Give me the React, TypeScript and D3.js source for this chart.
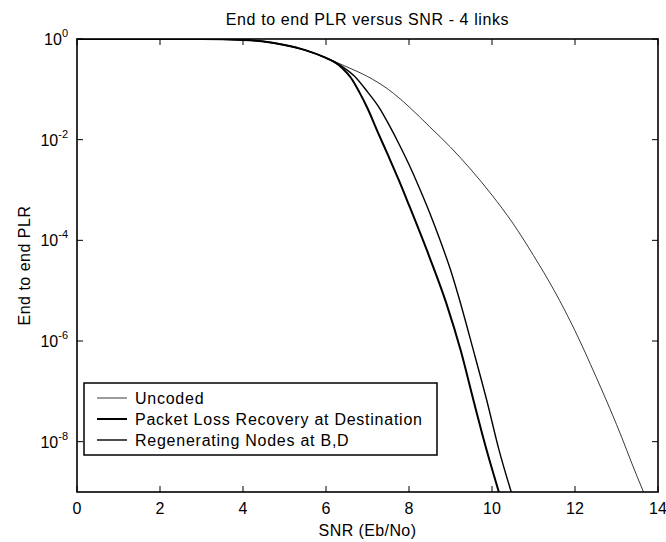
import { useRef, useEffect } from 'react';
import * as d3 from 'd3';

// SNR (Eb/No) sample points and end-to-end PLR
const snrUncoded = [0, 1, 2, 3, 4, 4.5, 5, 5.5, 6, 6.5, 7, 7.5, 8, 8.5, 9, 9.5, 10, 10.5, 11, 11.5, 12, 12.5, 13, 13.5, 13.7];
const plrUncoded = [1, 1, 1, 0.998, 0.96, 0.89, 0.76, 0.6, 0.42, 0.28, 0.18, 0.1, 0.045, 0.018, 7.1e-3, 2.5e-3, 7.9e-4, 2.2e-4, 5.0e-5, 1.0e-5, 1.6e-6, 2.0e-7, 2.2e-8, 2.0e-9, 8e-10];

const snrRecovery = [0, 1, 2, 3, 4, 4.5, 5, 5.5, 6, 6.2, 6.4, 6.6, 6.8, 7, 7.25, 7.5, 7.75, 8, 8.5, 8.9, 9.25, 9.55, 9.87, 10.2];
const plrRecovery = [1, 1, 1, 0.998, 0.96, 0.89, 0.76, 0.6, 0.42, 0.35, 0.26, 0.17, 0.089, 0.042, 0.014, 4.8e-3, 1.6e-3, 5.0e-4, 4.5e-5, 5.6e-6, 6.3e-7, 6.8e-8, 6.8e-9, 8e-10];

const snrRegen = [0, 1, 2, 3, 4, 4.5, 5, 5.5, 6, 6.4, 6.7, 7, 7.3, 7.5, 7.75, 8, 8.25, 8.5, 8.75, 9, 9.2, 9.55, 9.87, 10.17, 10.5];
const plrRegen = [1, 1, 1, 0.998, 0.96, 0.89, 0.76, 0.6, 0.42, 0.28, 0.178, 0.089, 0.041, 0.021, 8.5e-3, 3.2e-3, 1.1e-3, 3.5e-4, 1.0e-4, 2.6e-5, 7.4e-6, 6.6e-7, 6.8e-8, 6.8e-9, 8e-10];

const xTicks = [0, 2, 4, 6, 8, 10, 12, 14];
const yTickExps = [0, -2, -4, -6, -8];
const legendLabels = ['Uncoded', 'Packet Loss Recovery at Destination', 'Regenerating Nodes at B,D'];

export default function App() {
  const ref = useRef<SVGSVGElement>(null);

  useEffect(() => {
    if (!ref.current) return;
    const svg = d3.select(ref.current);
    svg.selectAll('*').remove();

    const width = 666;
    const height = 542;
    const margin = { top: 39, right: 8, bottom: 50, left: 77 };
    const x0 = margin.left;
    const x1 = width - margin.right;
    const y0 = margin.top;
    const y1 = height - margin.bottom;
    const font = 'Liberation Sans, Arial, sans-serif';

    const x = d3.scaleLinear().domain([0, 14]).range([x0, x1]);
    const y = d3.scaleLog().domain([1e-9, 1]).range([y1, y0]);

    svg.append('rect').attr('width', width).attr('height', height).attr('fill', '#fff');

    svg.append('defs').append('clipPath').attr('id', 'plot-clip')
      .append('rect').attr('x', x0).attr('y', y0).attr('width', x1 - x0).attr('height', y1 - y0);

    // ticks (inward, on all four sides)
    const tickLen = 6;
    const ticks = svg.append('g').attr('stroke', '#000').attr('stroke-width', 1);
    xTicks.forEach(t => {
      ticks.append('line').attr('x1', x(t)).attr('x2', x(t)).attr('y1', y1).attr('y2', y1 - tickLen);
      ticks.append('line').attr('x1', x(t)).attr('x2', x(t)).attr('y1', y0).attr('y2', y0 + tickLen);
    });
    yTickExps.forEach(e => {
      const v = Math.pow(10, e);
      ticks.append('line').attr('x1', x0).attr('x2', x0 + tickLen).attr('y1', y(v)).attr('y2', y(v));
      ticks.append('line').attr('x1', x1).attr('x2', x1 - tickLen).attr('y1', y(v)).attr('y2', y(v));
    });

    // curves
    const line = d3.line<[number, number]>()
      .x(d => x(d[0]))
      .y(d => y(d[1]))
      .curve(d3.curveMonotoneX);

    const series = [
      { xs: snrUncoded, ys: plrUncoded, w: 0.9, c: '#222' },
      { xs: snrRegen, ys: plrRegen, w: 1.4, c: '#000' },
      { xs: snrRecovery, ys: plrRecovery, w: 2, c: '#000' },
    ];
    const curves = svg.append('g').attr('clip-path', 'url(#plot-clip)');
    series.forEach(s => {
      curves.append('path')
        .datum(s.xs.map((v, i) => [v, s.ys[i]] as [number, number]))
        .attr('d', line)
        .attr('fill', 'none')
        .attr('stroke', s.c)
        .attr('stroke-width', s.w);
    });

    // frame
    svg.append('rect')
      .attr('x', x0).attr('y', y0).attr('width', x1 - x0).attr('height', y1 - y0)
      .attr('fill', 'none').attr('stroke', '#000').attr('stroke-width', 1.6);

    // x tick labels
    xTicks.forEach(t => {
      svg.append('text')
        .attr('x', x(t)).attr('y', y1 + 22)
        .attr('text-anchor', 'middle')
        .attr('font-family', font).attr('font-size', 16)
        .text(t);
    });

    // y tick labels 10^e
    yTickExps.forEach(e => {
      const t = svg.append('text')
        .attr('x', x0 - 9).attr('y', y(Math.pow(10, e)) + 6)
        .attr('text-anchor', 'end')
        .attr('font-family', font).attr('font-size', 16);
      t.append('tspan').text('10');
      t.append('tspan').attr('dy', -8).attr('font-size', 11).text(String(e));
    });

    // titles
    svg.append('text')
      .attr('x', (x0 + x1) / 2).attr('y', 25)
      .attr('text-anchor', 'middle')
      .attr('font-family', font).attr('font-size', 16)
      .attr('letter-spacing', 0.6)
      .text('End to end PLR versus SNR - 4 links');

    svg.append('text')
      .attr('x', (x0 + x1) / 2).attr('y', 536)
      .attr('text-anchor', 'middle')
      .attr('font-family', font).attr('font-size', 16)
      .attr('letter-spacing', 0.4)
      .text('SNR (Eb/No)');

    svg.append('text')
      .attr('transform', `translate(30,${(y0 + y1) / 2}) rotate(-90)`)
      .attr('text-anchor', 'middle')
      .attr('font-family', font).attr('font-size', 16)
      .attr('letter-spacing', 0.5)
      .text('End to end PLR');

    // legend
    const legend = svg.append('g').attr('transform', 'translate(84,383)');
    legend.append('rect')
      .attr('width', 353).attr('height', 72)
      .attr('fill', '#fff').attr('stroke', '#000').attr('stroke-width', 1.5);
    legendLabels.forEach((label, i) => {
      const s = series[i === 0 ? 0 : i === 1 ? 2 : 1];
      const ly = 15 + i * 21;
      legend.append('line')
        .attr('x1', 13).attr('x2', 43).attr('y1', ly).attr('y2', ly)
        .attr('stroke', s.c).attr('stroke-width', s.w);
      legend.append('text')
        .attr('x', 51).attr('y', ly + 6)
        .attr('font-family', font).attr('font-size', 16)
        .attr('letter-spacing', 0.75)
        .text(label);
    });
  }, []);

  return (
    <svg
      ref={ref}
      width={666}
      height={542}
      style={{ position: 'absolute', left: 0, top: 0 }}
    />
  );
}
